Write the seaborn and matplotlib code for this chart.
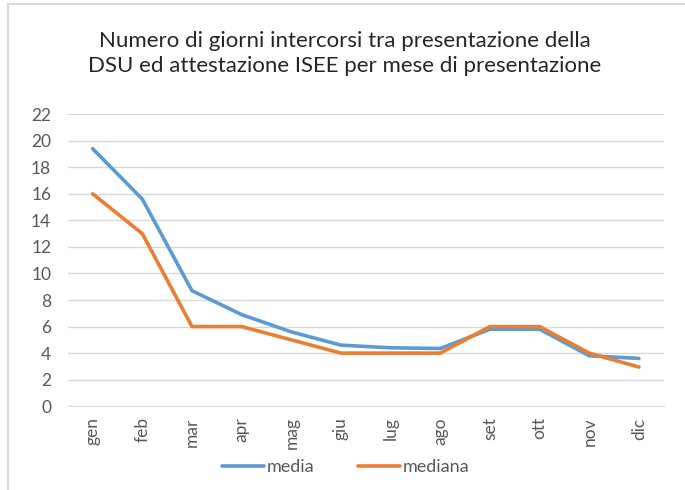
import numpy as np
import pandas as pd
import matplotlib.pyplot as plt
import seaborn as sns
from matplotlib.lines import Line2D

mesi = ["gen", "feb", "mar", "apr", "mag", "giu", "lug", "ago", "set", "ott", "nov", "dic"]
media = [19.4, 15.6, 8.7, 6.9, 5.6, 4.6, 4.4, 4.35, 5.8, 5.8, 3.8, 3.6]
mediana = [16, 13, 6, 6, 5, 4, 4, 4, 6, 6, 4, 2.95]

df = pd.DataFrame({"mese": mesi * 2,
                   "giorni": media + mediana,
                   "serie": ["media"] * len(mesi) + ["mediana"] * len(mesi)})
df["x"] = list(range(len(mesi))) * 2

sns.set_style("white")
plt.rcParams["font.family"] = ["Lato", "DejaVu Sans"]

fig = plt.figure(figsize=(6.85, 4.9), dpi=100)
ax = fig.add_axes([0.099, 0.171, 0.870, 0.596])

sns.lineplot(data=df, x="x", y="giorni", hue="serie",
             palette={"media": "#5B9BD5", "mediana": "#ED7D31"},
             linewidth=2.6, ax=ax)

ax.set_xlim(-0.5, len(mesi) - 0.5)
ax.set_ylim(0, 22)
ax.set_yticks(np.arange(0, 23, 2))
ax.set_xticks(range(len(mesi)))
ax.set_xticklabels(mesi, rotation=90)
ax.tick_params(axis="both", length=0, labelsize=12.5, labelcolor="#595959")
ax.tick_params(axis="y", pad=12)
ax.tick_params(axis="x", pad=8)
ax.yaxis.grid(True, color="#D9D9D9", linewidth=1)
ax.set_axisbelow(True)
for s in ["top", "right", "left"]:
    ax.spines[s].set_visible(False)
ax.spines["bottom"].set_color("#D9D9D9")
ax.set_xlabel("")
ax.set_ylabel("")

fig.suptitle("Numero di giorni intercorsi tra presentazione della\nDSU ed attestazione ISEE per mese di presentazione",
             x=0.503, y=0.937, fontsize=16, color="#262626", linespacing=1.35)

sns.move_legend(ax, "center", bbox_to_anchor=(0.505, 0.047), bbox_transform=fig.transFigure,
                ncol=2, frameon=False, title=None, fontsize=13, handlelength=2.3,
                handletextpad=0.2, columnspacing=2.4)
for t in ax.get_legend().get_texts():
    t.set_color("#595959")

# chart frame (only top and left edges visible, as in the cropped original)
fig.lines.append(Line2D([0.011, 0.011], [0.0, 0.992], transform=fig.transFigure,
                        color="#D9D9D9", linewidth=1.5))
fig.lines.append(Line2D([0.011, 1.0], [0.992, 0.992], transform=fig.transFigure,
                        color="#D9D9D9", linewidth=1.5))

fig.savefig("out.png", dpi=100)
